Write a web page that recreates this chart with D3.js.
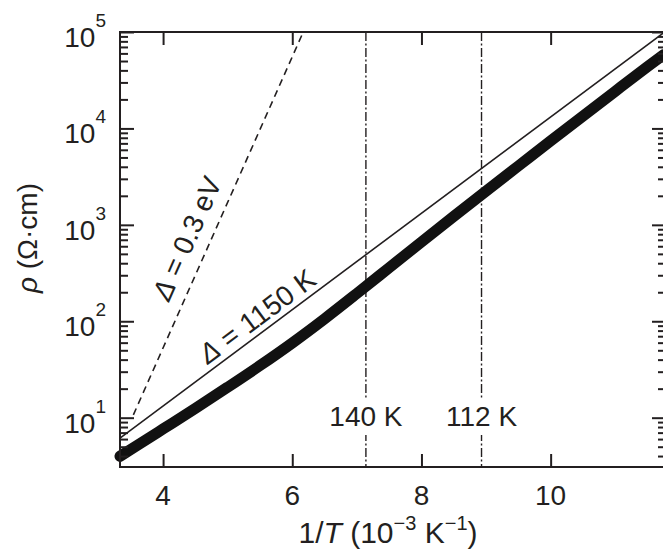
<!DOCTYPE html>
<html><head><meta charset="utf-8">
<script src="https://cdn.jsdelivr.net/npm/d3@7"></script>
<style>
html,body{margin:0;padding:0;background:#fff;}
svg{display:block;}
text{font-family:"Liberation Sans", Arial, Helvetica, sans-serif; fill:#231f20;}
</style></head><body>
<svg id="chart" width="663" height="551"></svg>
<script>
// measured resistivity curve
const invT = [3.333, 3.6, 4.0, 4.5, 5.0, 5.5, 6.0, 6.5, 7.0, 7.5, 8.0, 8.5, 9.0, 9.5, 10.0, 10.5, 11.0, 11.5, 11.75];
const rho  = [3.98, 5.16, 7.64, 12.5, 20.7, 34.7, 59.6, 106, 194, 359, 665, 1225, 2239, 4074, 7413, 13430, 24270, 43650, 58210];
// activation fit Δ = 1150 K (thin line)
const fitX = [3.333, 11.765];
const fitRho = [6.15, 1e5];
// Δ = 0.3 eV guide (dashed)
const gapX = [3.54, 6.17];
const gapRho = [10.7, 1e5];
// transition markers
const markX = [7.14, 8.93];
const markLabels = ["140 K", "112 K"];
// ticks
const xTicks = [4, 6, 8, 10];
const yExponents = [1, 2, 3, 4, 5];
const xDomain = [3.333, 11.786];
const yDomain = [3.08, 1e5];

const svg = d3.select("#chart");
const m = {left:120, right:666, top:32, bottom:467};
const x = d3.scaleLinear().domain(xDomain).range([m.left, m.right]);
const y = d3.scaleLog().domain(yDomain).range([m.bottom, m.top]);
const ink = "#231f20";

const majorY = yExponents.map(e => Math.pow(10, e));
const minorY = [];
for (let d = 0; d <= 4; d++) for (let k = 2; k <= 9; k++) {
  const v = k * Math.pow(10, d);
  if (v >= yDomain[0] && v <= yDomain[1]) minorY.push(v);
}

// vertical transition lines
const mk = svg.append("g");
markX.forEach((v, i) => {
  mk.append("line").attr("x1", x(v)).attr("x2", x(v)).attr("y1", m.top).attr("y2", m.bottom)
    .attr("stroke", ink).attr("stroke-width", 1.4).attr("stroke-dasharray", "9,2.5,2,2.5");
  mk.append("rect").attr("x", x(v) - 42).attr("y", 400).attr("width", 84).attr("height", 35).attr("fill", "#fff");
  mk.append("text").attr("x", x(v)).attr("y", 426).attr("text-anchor", "middle")
    .attr("font-size", 28).text(markLabels[i]);
});

const lineGen = d3.line().x(d => x(d[0])).y(d => y(d[1]));

// dashed guide
svg.append("path").datum(gapX.map((v, i) => [v, gapRho[i]])).attr("d", lineGen)
  .attr("fill", "none").attr("stroke", ink).attr("stroke-width", 1.6).attr("stroke-dasharray", "7,5");
// thin fit line
svg.append("path").datum(fitX.map((v, i) => [v, fitRho[i]])).attr("d", lineGen)
  .attr("fill", "none").attr("stroke", ink).attr("stroke-width", 1.6);
// thick data curve
svg.append("path").datum(invT.map((v, i) => [v, rho[i]]))
  .attr("d", d3.line().x(d => x(d[0])).y(d => y(d[1])).curve(d3.curveMonotoneX))
  .attr("fill", "none").attr("stroke", "#111").attr("stroke-width", 11)
  .attr("stroke-linecap", "round").attr("stroke-linejoin", "round");

// annotations along lines
function annotate(xs, rs, atX, offset, parts) {
  const p0 = [x(xs[0]), y(rs[0])], p1 = [x(xs[1]), y(rs[1])];
  const ang = Math.atan2(p1[1] - p0[1], p1[0] - p0[0]) * 180 / Math.PI;
  const t = (atX - xs[0]) / (xs[1] - xs[0]);
  const lr = Math.log10(rs[0]) + t * (Math.log10(rs[1]) - Math.log10(rs[0]));
  const px = x(atX), py = y(Math.pow(10, lr));
  const tx = svg.append("text").attr("transform", `translate(${px},${py}) rotate(${ang})`)
    .attr("y", offset).attr("text-anchor", "middle").attr("font-size", 28);
  parts.forEach(pt => {
    const s = tx.append("tspan").text(pt.t);
    if (pt.i) s.attr("font-style", "italic");
  });
}
annotate(gapX, gapRho, 4.689, -13, [{t:"Δ", i:true}, {t:" = 0.3 eV"}]);
annotate(fitX, fitRho, 5.60, -6, [{t:"Δ", i:true}, {t:" = 1150 K"}]);

// axes (ticks inward)
const axStyle = g => {
  g.select(".domain").remove();
  g.selectAll(".tick line").attr("stroke", ink).attr("stroke-width", 2);
  g.selectAll(".tick text").remove();
};
svg.append("g").attr("transform", `translate(${m.left},0)`)
  .call(d3.axisLeft(y).tickValues(majorY).tickSize(-14).tickFormat("")).call(axStyle);
svg.append("g").attr("transform", `translate(${m.left},0)`)
  .call(d3.axisLeft(y).tickValues(minorY).tickSize(-8).tickFormat("")).call(axStyle);
svg.append("g").attr("transform", `translate(${m.right},0)`)
  .call(d3.axisRight(y).tickValues(majorY).tickSize(-14).tickFormat("")).call(axStyle);
svg.append("g").attr("transform", `translate(${m.right},0)`)
  .call(d3.axisRight(y).tickValues(minorY).tickSize(-8).tickFormat("")).call(axStyle);
svg.append("g").attr("transform", `translate(0,${m.bottom})`)
  .call(d3.axisBottom(x).tickValues(xTicks).tickSize(-13).tickFormat("")).call(axStyle);
svg.append("g").attr("transform", `translate(0,${m.top})`)
  .call(d3.axisTop(x).tickValues(xTicks).tickSize(-13).tickFormat("")).call(axStyle);

svg.append("rect").attr("x", m.left).attr("y", m.top).attr("width", m.right - m.left)
  .attr("height", m.bottom - m.top).attr("fill", "none").attr("stroke", ink).attr("stroke-width", 2);

// tick labels
yExponents.forEach(e => {
  const t = svg.append("text").attr("x", 106).attr("y", y(Math.pow(10, e)) + 15)
    .attr("text-anchor", "end").attr("font-size", 28);
  t.append("tspan").text("10");
  t.append("tspan").attr("dy", -20).attr("font-size", 19).text(String(e));
});
xTicks.forEach(v => {
  svg.append("text").attr("x", x(v)).attr("y", 505).attr("text-anchor", "middle")
    .attr("font-size", 28).text(String(v));
});

// axis titles
const xt = svg.append("text").attr("x", 388).attr("y", 543)
  .attr("text-anchor", "middle").attr("font-size", 30);
xt.append("tspan").text("1/");
xt.append("tspan").attr("font-style", "italic").text("T");
xt.append("tspan").text(" (10");
xt.append("tspan").attr("dy", -13).attr("font-size", 20).text("−3");
xt.append("tspan").attr("dy", 13).text(" K");
xt.append("tspan").attr("dy", -13).attr("font-size", 20).text("−1");
xt.append("tspan").attr("dy", 13).text(")");

const yt = svg.append("text").attr("transform", "translate(37,238) rotate(-90)")
  .attr("text-anchor", "middle").attr("font-size", 28);
yt.append("tspan").attr("font-style", "italic").text("ρ");
yt.append("tspan").text(" (Ω·cm)");
</script>
</body></html>
